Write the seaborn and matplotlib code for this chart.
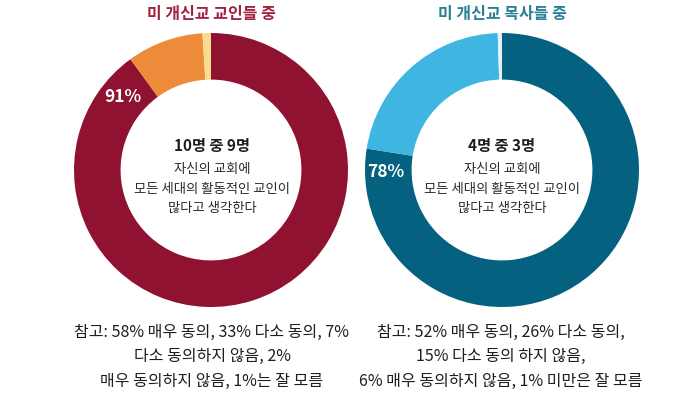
import matplotlib
matplotlib.use("Agg")
import matplotlib.pyplot as plt
import seaborn as sns

# 데이터
members_title = "미 개신교 교인들 중"
pastors_title = "미 개신교 목사들 중"
members_vals = [90, 9, 1]      # 동의 / 동의하지 않음 / 잘 모름
pastors_vals = [77.5, 22, 0.5]
members_colors = ["#8f1330", "#ee8b3a", "#f6dc8c"]
pastors_colors = ["#04617f", "#3fb5e1", "#e3f1f7"]
members_pct = "91%"
pastors_pct = "78%"
members_head = "10명 중 9명"
pastors_head = "4명 중 3명"
center_lines = ["자신의 교회에", "모든 세대의 활동적인 교인이", "많다고 생각한다"]
members_note = ["참고: 58% 매우 동의, 33% 다소 동의, 7%",
                "다소 동의하지 않음, 2%",
                "매우 동의하지 않음, 1%는 잘 모름"]
pastors_note = ["참고: 52% 매우 동의, 26% 다소 동의,",
                "15% 다소 동의 하지 않음,",
                "6% 매우 동의하지 않음, 1% 미만은 잘 모름"]

sns.set_theme(style="white")
plt.rcParams['font.family'] = ['Noto Sans CJK KR', 'DejaVu Sans']

W, H = 700, 404
fig = plt.figure(figsize=(7, 4.04), dpi=100)
fig.patch.set_facecolor("white")

R = 137  # 바깥 반지름 (px)


def donut(cx, cy, vals, colors):
    ax = fig.add_axes([(cx - R) / W, (H - cy - R) / H, 2 * R / W, 2 * R / H])
    ax.pie(vals, colors=colors, startangle=90, counterclock=False, radius=1,
           wedgeprops=dict(width=0.34, linewidth=0))
    ax.set_xlim(-1, 1)
    ax.set_ylim(-1, 1)
    ax.set_aspect("equal")
    ax.axis("off")
    return ax


donut(211, 170, members_vals, members_colors)
donut(502, 170, pastors_vals, pastors_colors)

# 텍스트 레이어
tx = fig.add_axes([0, 0, 1, 1])
tx.set_xlim(0, W)
tx.set_ylim(H, 0)
tx.axis("off")
tx.patch.set_alpha(0)

tx.text(211, 14, members_title, ha="center", va="center", fontsize=11.5,
        fontweight="bold", color="#a2213f")
tx.text(502, 14, pastors_title, ha="center", va="center", fontsize=11.5,
        fontweight="bold", color="#2a7f97")

tx.text(123, 97, members_pct, ha="center", va="center", fontsize=12.5,
        fontweight="bold", color="white")
tx.text(386, 172, pastors_pct, ha="center", va="center", fontsize=12.5,
        fontweight="bold", color="white")

for cx, head in [(212, members_head), (502, pastors_head)]:
    tx.text(cx, 146, head, ha="center", va="center", fontsize=11,
            fontweight="bold", color="#1e1e1e")
    for i, line in enumerate(center_lines):
        tx.text(cx, 169 + i * 19.5, line, ha="center", va="center",
                fontsize=9.6, color="#2a2a2a")

for cx, note in [(212, members_note), (501, pastors_note)]:
    for i, line in enumerate(note):
        tx.text(cx, 332 + i * 24.5, line, ha="center", va="center",
                fontsize=11.5, color="#1e1e1e")

fig.savefig("out.png", dpi=100, facecolor="white")
